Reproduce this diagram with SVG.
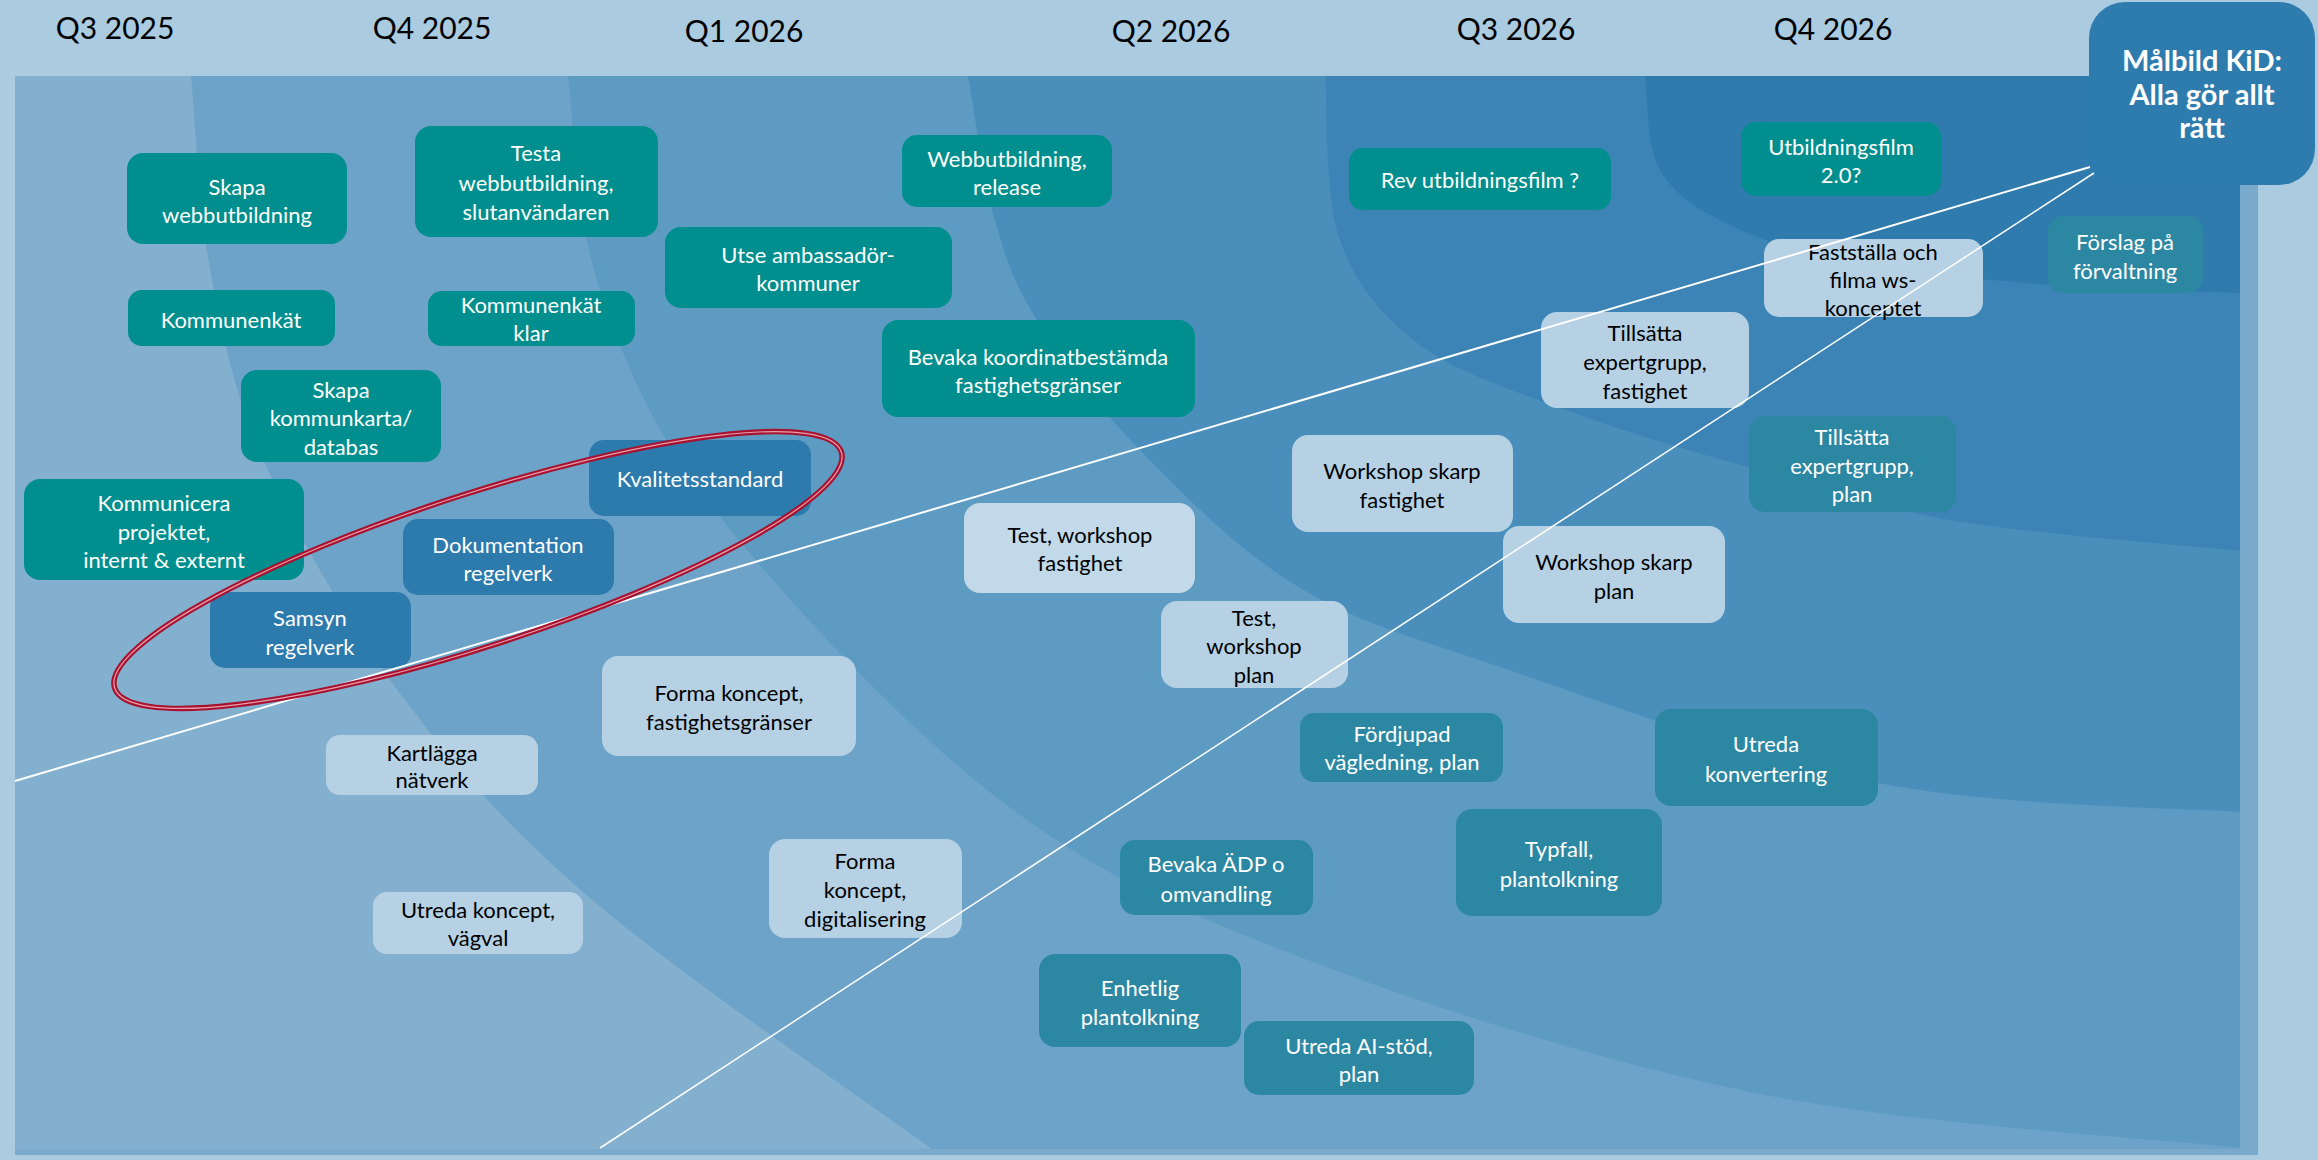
<svg xmlns="http://www.w3.org/2000/svg" width="2318" height="1160" viewBox="0 0 2318 1160">
<defs>
<clipPath id="panel"><rect x="15" y="76" width="2225" height="1073"/></clipPath>
</defs>
<style>
.t{font-family:Lato,"Open Sans","Liberation Sans",sans-serif;font-size:22px;text-anchor:middle}
.w{fill:#ffffff}
.k{fill:#000000}
.teal{fill:#008F8E}
.blue{fill:#2D7AAD}
.tb{fill:#2C88A2}
.lt{fill:#B6D1E4}
.lt2{fill:#C1D9E8}
.hd{font-family:Lato,"Open Sans","Liberation Sans",sans-serif;font-size:30px;fill:#000000;text-anchor:middle}
.goal{font-family:Lato,"Open Sans","Liberation Sans",sans-serif;font-size:29px;font-weight:bold;fill:#ffffff;text-anchor:middle}
.cn{stroke:#ffffff;fill:none}
</style>
<rect width="2318" height="1160" fill="#ABCCE0"/>
<rect x="15" y="76" width="2243" height="1079" fill="#7AAACB"/>
<g id="background" clip-path="url(#panel)">
<rect x="15" y="76" width="2225" height="1073" fill="#83B0CF"/>
<path fill="#6DA3C8" d="M191,60 L191,76 C194.5,110 199.2,214.3 212,280 C224.8,345.7 235.8,400 268,470 C300.2,540 350.3,627.8 405,700 C459.7,772.2 508,828 596,903 C684,978 876.8,1108.8 936,1152 L2300,1152 L2300,60 Z"/>
<path fill="#5D9BC2" d="M568,60 L568,76 C573.3,111.7 575.2,217.2 600,290 C624.8,362.8 650.3,428 717,513 C783.7,598 902.8,726 1000,800 C1097.2,874 1174.2,908.2 1300,957 C1425.8,1005.8 1598.3,1061.2 1755,1093 C1911.7,1124.8 2159.2,1138.8 2240,1148 L2300,1150 L2300,60 Z"/>
<path fill="#4A8FBB" d="M968,60 L968,76 C972.5,100 983.5,179.3 995,220 C1006.5,260.7 1012.8,281.7 1037,320 C1061.2,358.3 1096.7,405.7 1140,450 C1183.3,494.3 1237,549.8 1297,586 C1357,622.2 1403.2,634.2 1500,667 C1596.8,699.8 1754.7,758.8 1878,783 C2001.3,807.2 2179.7,807.2 2240,812 L2300,812 L2300,60 Z"/>
<path fill="#3B84B5" d="M1325,60 L1325,76 C1327.5,103.3 1324.2,195.2 1340,240 C1355.8,284.8 1382.3,316.7 1420,345 C1457.7,373.3 1512.7,390 1566,410 C1619.3,430 1676,446.7 1740,465 C1804,483.3 1866.7,505.7 1950,520 C2033.3,534.3 2191.7,545.8 2240,551 L2300,551 L2300,60 Z"/>
<path fill="#2F7BAE" d="M1645,60 L1645,76 C1647.5,91.7 1645.8,145.2 1660,170 C1674.2,194.8 1698.3,209.7 1730,225 C1761.7,240.3 1796.7,252 1850,262 C1903.3,272 1985,279.8 2050,285 C2115,290.2 2208.3,291.7 2240,293 L2300,293 L2300,60 Z"/>
</g>
<g id="headers">
<text class="hd" x="115" y="39">Q3 2025</text>
<text class="hd" x="432" y="39">Q4 2025</text>
<text class="hd" x="744" y="42">Q1 2026</text>
<text class="hd" x="1171" y="42">Q2 2026</text>
<text class="hd" x="1516" y="40">Q3 2026</text>
<text class="hd" x="1833" y="40">Q4 2026</text>
</g>
<g id="goal">
<rect x="2089" y="2" width="226" height="183" rx="36" fill="#2E7BAE"/>
<text class="goal" x="2202" y="71">Målbild KiD:</text>
<text class="goal" x="2202" y="105">Alla gör allt</text>
<text class="goal" x="2202" y="138">rätt</text>
</g>
<g id="n1"><rect class="teal" x="127" y="153" width="220" height="91" rx="16"/><text class="t w" x="237" y="195">Skapa</text><text class="t w" x="237" y="223">webbutbildning</text></g>
<g id="n2"><rect class="teal" x="415" y="126" width="243" height="111" rx="16"/><text class="t w" x="536" y="161">Testa</text><text class="t w" x="536" y="191">webbutbildning,</text><text class="t w" x="536" y="220">slutanvändaren</text></g>
<g id="n3"><rect class="teal" x="128" y="290" width="207" height="56" rx="14"/><text class="t w" x="231" y="328">Kommunenkät</text></g>
<g id="n4"><rect class="teal" x="428" y="291" width="207" height="55" rx="14"/><text class="t w" x="531" y="313">Kommunenkät</text><text class="t w" x="531" y="341">klar</text></g>
<g id="n5"><rect class="teal" x="241" y="370" width="200" height="92" rx="16"/><text class="t w" x="341" y="398">Skapa</text><text class="t w" x="341" y="426">kommunkarta/</text><text class="t w" x="341" y="455">databas</text></g>
<g id="n6"><rect class="teal" x="665" y="227" width="287" height="81" rx="16"/><text class="t w" x="808" y="263">Utse ambassadör-</text><text class="t w" x="808" y="291">kommuner</text></g>
<g id="n7"><rect class="teal" x="902" y="135" width="210" height="72" rx="15"/><text class="t w" x="1007" y="167">Webbutbildning,</text><text class="t w" x="1007" y="195">release</text></g>
<g id="n8"><rect class="teal" x="882" y="320" width="313" height="97" rx="16"/><text class="t w" x="1038" y="365">Bevaka koordinatbestämda</text><text class="t w" x="1038" y="393">fastighetsgränser</text></g>
<g id="n9"><rect class="teal" x="1349" y="148" width="262" height="62" rx="14"/><text class="t w" x="1480" y="188">Rev utbildningsfilm ?</text></g>
<g id="n10"><rect class="teal" x="1741" y="122" width="200" height="74" rx="15"/><text class="t w" x="1841" y="155">Utbildningsfilm</text><text class="t w" x="1841" y="183">2.0?</text></g>
<g id="n11"><rect class="lt" x="1764" y="239" width="219" height="78" rx="15"/><text class="t k" x="1873" y="260">Fastställa och</text><text class="t k" x="1873" y="288">filma ws-</text><text class="t k" x="1873" y="316">konceptet</text></g>
<g id="n12"><rect class="tb" x="2048" y="216" width="155" height="77" rx="15"/><text class="t w" x="2125" y="250">Förslag på</text><text class="t w" x="2125" y="279">förvaltning</text></g>
<g id="n13"><rect class="lt" x="1541" y="312" width="208" height="96" rx="16"/><text class="t k" x="1645" y="341">Tillsätta</text><text class="t k" x="1645" y="370">expertgrupp,</text><text class="t k" x="1645" y="399">fastighet</text></g>
<g id="n14"><rect class="tb" x="1749" y="416" width="207" height="96" rx="16"/><text class="t w" x="1852" y="445">Tillsätta</text><text class="t w" x="1852" y="474">expertgrupp,</text><text class="t w" x="1852" y="502">plan</text></g>
<g id="n15"><rect class="lt" x="1292" y="435" width="221" height="97" rx="16"/><text class="t k" x="1402" y="479">Workshop skarp</text><text class="t k" x="1402" y="508">fastighet</text></g>
<g id="n16"><rect class="lt" x="1503" y="526" width="222" height="97" rx="16"/><text class="t k" x="1614" y="570">Workshop skarp</text><text class="t k" x="1614" y="599">plan</text></g>
<g id="n17"><rect class="blue" x="589" y="440" width="222" height="76" rx="15"/><text class="t w" x="700" y="487">Kvalitetsstandard</text></g>
<g id="n18"><rect class="blue" x="403" y="519" width="211" height="76" rx="15"/><text class="t w" x="508" y="553">Dokumentation</text><text class="t w" x="508" y="581">regelverk</text></g>
<g id="n19"><rect class="blue" x="210" y="592" width="201" height="76" rx="15"/><text class="t w" x="310" y="626">Samsyn</text><text class="t w" x="310" y="655">regelverk</text></g>
<g id="n20"><rect class="teal" x="24" y="479" width="280" height="101" rx="16"/><text class="t w" x="164" y="511">Kommunicera</text><text class="t w" x="164" y="540">projektet,</text><text class="t w" x="164" y="568">internt &amp; externt</text></g>
<g id="n21"><rect class="lt" x="602" y="656" width="254" height="100" rx="16"/><text class="t k" x="729" y="701">Forma koncept,</text><text class="t k" x="729" y="730">fastighetsgränser</text></g>
<g id="n22"><rect class="lt" x="326" y="735" width="212" height="60" rx="14"/><text class="t k" x="432" y="761">Kartlägga</text><text class="t k" x="432" y="788">nätverk</text></g>
<g id="n23"><rect class="lt2" x="964" y="503" width="231" height="90" rx="16"/><text class="t k" x="1080" y="543">Test, workshop</text><text class="t k" x="1080" y="571">fastighet</text></g>
<g id="n24"><rect class="lt" x="1161" y="601" width="187" height="87" rx="16"/><text class="t k" x="1254" y="626">Test,</text><text class="t k" x="1254" y="654">workshop</text><text class="t k" x="1254" y="683">plan</text></g>
<g id="n25"><rect class="tb" x="1300" y="713" width="203" height="69" rx="14"/><text class="t w" x="1402" y="742">Fördjupad</text><text class="t w" x="1402" y="770">vägledning, plan</text></g>
<g id="n26"><rect class="tb" x="1655" y="709" width="223" height="97" rx="16"/><text class="t w" x="1766" y="752">Utreda</text><text class="t w" x="1766" y="782">konvertering</text></g>
<g id="n27"><rect class="tb" x="1456" y="809" width="206" height="107" rx="16"/><text class="t w" x="1559" y="857">Typfall,</text><text class="t w" x="1559" y="887">plantolkning</text></g>
<g id="n28"><rect class="tb" x="1120" y="840" width="193" height="75" rx="15"/><text class="t w" x="1216" y="872">Bevaka ÄDP o</text><text class="t w" x="1216" y="902">omvandling</text></g>
<g id="n29"><rect class="lt" x="769" y="839" width="193" height="99" rx="16"/><text class="t k" x="865" y="869">Forma</text><text class="t k" x="865" y="898">koncept,</text><text class="t k" x="865" y="927">digitalisering</text></g>
<g id="n30"><rect class="lt" x="373" y="892" width="210" height="62" rx="14"/><text class="t k" x="478" y="918">Utreda koncept,</text><text class="t k" x="478" y="946">vägval</text></g>
<g id="n31"><rect class="tb" x="1039" y="954" width="202" height="93" rx="16"/><text class="t w" x="1140" y="996">Enhetlig</text><text class="t w" x="1140" y="1025">plantolkning</text></g>
<g id="n32"><rect class="tb" x="1244" y="1021" width="230" height="74" rx="15"/><text class="t w" x="1359" y="1054">Utreda AI-stöd,</text><text class="t w" x="1359" y="1082">plan</text></g>
<g id="connectors">
<line class="cn" x1="15" y1="781" x2="2090" y2="167" stroke-width="2"/>
<line class="cn" x1="600" y1="1148" x2="2094" y2="173" stroke-width="1.5"/>
</g>
<g id="highlight">
<ellipse cx="478" cy="570" rx="382" ry="76" transform="rotate(-18 478 570)" fill="none" stroke="#A8122F" stroke-width="5.5"/>
<ellipse cx="478" cy="570" rx="382" ry="76" transform="rotate(-18 478 570)" fill="none" stroke="#E8A0B0" stroke-width="1.2"/>
</g>
</svg>
